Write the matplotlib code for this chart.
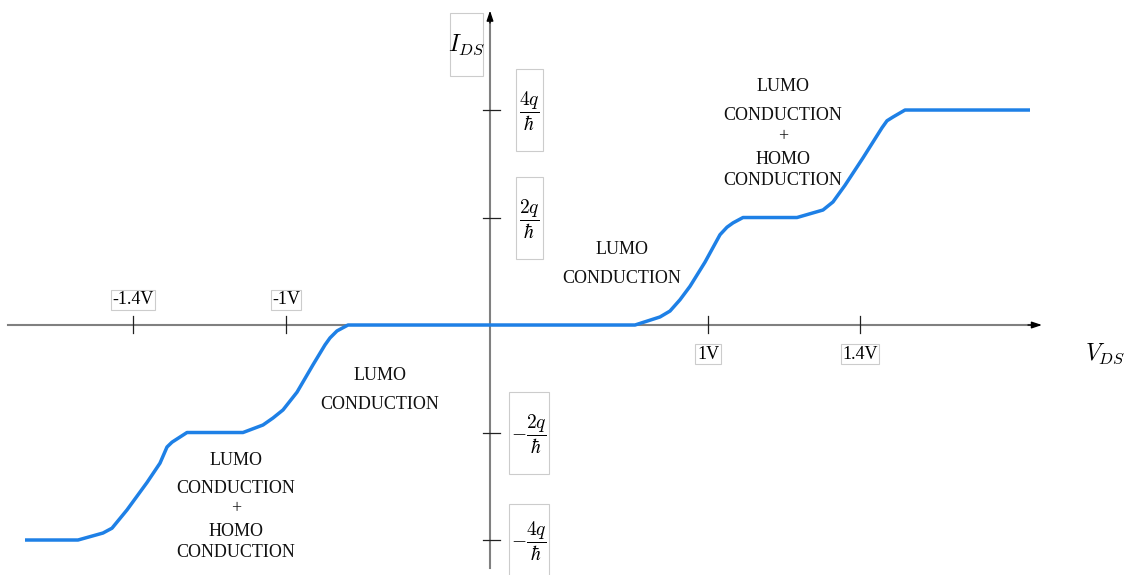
import matplotlib.pyplot as plt
from matplotlib.patches import Rectangle

plt.rcParams['mathtext.fontset'] = 'cm'
plt.rcParams['font.family'] = ['Liberation Serif', 'DejaVu Serif']

# I-V staircase (schematic units: x ~ bias, y in units of q/hbar)
vds = [-4.65, -4.12, -3.87, -3.78, -3.63, -3.43, -3.30, -3.23, -3.18, -3.03,
       -2.47, -2.27, -2.17, -2.07, -1.93, -1.77, -1.65, -1.60, -1.53, -1.42,
       1.45, 1.70, 1.80, 1.90, 2.00, 2.15, 2.30, 2.37, 2.43, 2.53,
       3.07, 3.33, 3.43, 3.55, 3.73, 3.92, 3.97, 4.03, 4.15, 5.40]
ids = [-4.0, -4.0, -3.87, -3.78, -3.44, -2.93, -2.57, -2.27, -2.18, -2.0,
       -2.0, -1.86, -1.73, -1.58, -1.25, -0.74, -0.37, -0.24, -0.11, 0.0,
       0.0, 0.15, 0.26, 0.47, 0.72, 1.17, 1.68, 1.82, 1.90, 2.0,
       2.0, 2.14, 2.29, 2.60, 3.11, 3.67, 3.80, 3.87, 4.0, 4.0]

xtick_pos = [-3.57, -2.04, 2.18, 3.70]
xtick_lab = ['-1.4V', '-1V', '1V', '1.4V']
ytick_pos = [4, 2, -2, -4]
ytick_lab = [r'$\dfrac{4q}{\hbar}$', r'$\dfrac{2q}{\hbar}$',
             r'$-\dfrac{2q}{\hbar}$', r'$-\dfrac{4q}{\hbar}$']

SX, SY = 100.0, 53.75  # px per unit


def box(ax, cx, cy, w, h):
    ax.add_patch(Rectangle((cx - w / 2 / SX, cy - h / 2 / SY), w / SX, h / SY,
                           fill=False, ec='#cccccc', lw=0.8, zorder=1))


fig = plt.figure(figsize=(11.27, 5.75), dpi=100)
ax = fig.add_axes([0, 0, 1, 1])
ax.set_xlim(-4.90, 6.37)
ax.set_ylim(-4.651, 6.047)
ax.axis('off')

# axes lines with small black arrow heads
ax.plot([-4.82, 5.42], [0, 0], color='#808080', lw=1.5, zorder=2)
ax.plot([0, 0], [-4.52, 5.70], color='#808080', lw=1.5, zorder=2)
ax.annotate('', xy=(5.52, 0), xytext=(5.38, 0),
            arrowprops=dict(arrowstyle='-|>,head_length=0.6,head_width=0.2',
                            color='black', lw=1.0, shrinkA=0, shrinkB=0))
ax.annotate('', xy=(0, 5.85), xytext=(0, 5.62),
            arrowprops=dict(arrowstyle='-|>,head_length=0.6,head_width=0.2',
                            color='black', lw=1.0, shrinkA=0, shrinkB=0))

ax.plot(vds, ids, color='#1e80e6', lw=2.5, solid_joinstyle='round',
        solid_capstyle='butt', zorder=3)

# x ticks + boxed labels
for x, lab in zip(xtick_pos, xtick_lab):
    ax.plot([x, x], [-0.15, 0.17], color='#222222', lw=0.9)
    ly = 0.47 if x < 0 else -0.54
    ax.text(x, ly, lab, ha='center', va='center', fontsize=13,
            bbox=dict(boxstyle='square,pad=0.08', fc='white', ec='#cccccc', lw=0.8))

# y ticks + boxed fraction labels
for y, lab in zip(ytick_pos, ytick_lab):
    ax.plot([-0.07, 0.10], [y, y], color='#222222', lw=0.9)
    w = 27 if y > 0 else 40
    ax.text(0.39 if y > 0 else 0.385, y - 0.03, lab, ha='center', va='center',
            fontsize=14)
    box(ax, 0.39, y + (0 if y > -4 else -0.1), w, 82)

# axis titles
ax.text(-0.24, 5.22, r'$I_{DS}$', ha='center', va='center', fontsize=17)
box(ax, -0.24, 5.22, 33, 63)
ax.text(6.15, -0.54, r'$V_{DS}$', ha='center', va='center', fontsize=17)


# region annotations
def lines(cx, ys, texts):
    for py, t in zip(ys, texts):
        ax.text(cx, (325 - py) / SY, t, ha='center', va='center', fontsize=13,
                color='#111111')


both = ['LUMO', 'CONDUCTION', '+', 'HOMO', 'CONDUCTION']
lines(-2.54, [460, 488, 509, 531, 552], both)
lines(2.93, [86, 115, 137, 159, 180], both)
lines(1.32, [249, 278], ['LUMO', 'CONDUCTION'])
lines(-1.10, [375, 404], ['LUMO', 'CONDUCTION'])

fig.savefig('out.png', dpi=100, facecolor='white')
